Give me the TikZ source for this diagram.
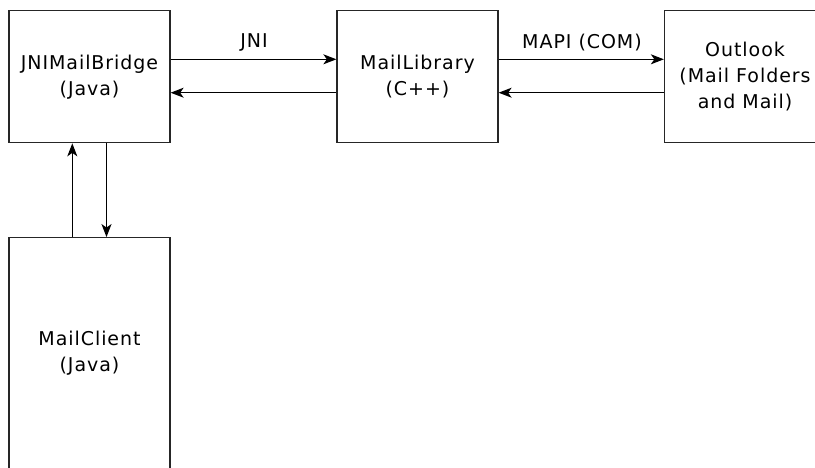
\documentclass[tikz,border=0pt]{standalone}
\usepackage{fontspec}
\setmainfont{DejaVu Sans}[LetterSpace=5]
\usetikzlibrary{arrows.meta}
\begin{document}
\begin{tikzpicture}[x=1pt,y=-1pt,
  box/.style={draw=black!85, line width=1.3pt, minimum width=161pt, inner sep=0pt, align=center,
    font=\fontsize{19}{26}\selectfont},
  arr/.style={line width=1.1pt, -{Stealth[length=13pt,width=10pt,inset=3.5pt]}},
  lbl/.style={font=\fontsize{19}{22}\selectfont, anchor=base}]
\useasboundingbox (0,0) rectangle (815,467);
\clip (0,0) rectangle (815,467);
\fill[white] (0,0) rectangle (815,467);
\node[box, minimum height=132pt] (b1) at (89.5,76.7) {JNIMailBridge\\(Java)};
\node[box, minimum height=132pt] (b2) at (417.5,76.7) {MailLibrary\\(C++)};
\node[box, minimum height=132pt] (b3) at (745,76.7) {Outlook\\(Mail Folders\\and Mail)};
\node[box, minimum height=231pt] (b4) at (89.5,353.2) {MailClient\\(Java)};
\draw[arr] ([yshift=17.4pt]b1.east) -- ([yshift=17.4pt]b2.west);
\draw[arr] ([yshift=-16pt]b2.west) -- ([yshift=-16pt]b1.east);
\draw[arr] ([yshift=17.4pt]b2.east) -- ([yshift=17.4pt]b3.west);
\draw[arr] ([yshift=-16pt]b3.west) -- ([yshift=-16pt]b2.east);
\draw[arr] ([xshift=-17.2pt]b4.north) -- ([xshift=-17.2pt]b1.south);
\draw[arr] ([xshift=17pt]b1.south) -- ([xshift=17pt]b4.north);
\node[lbl] (l1) at (254,47) {JNI};
\node[lbl] (l2) at (582,48) {MAPI (COM)};
\end{tikzpicture}
\end{document}
